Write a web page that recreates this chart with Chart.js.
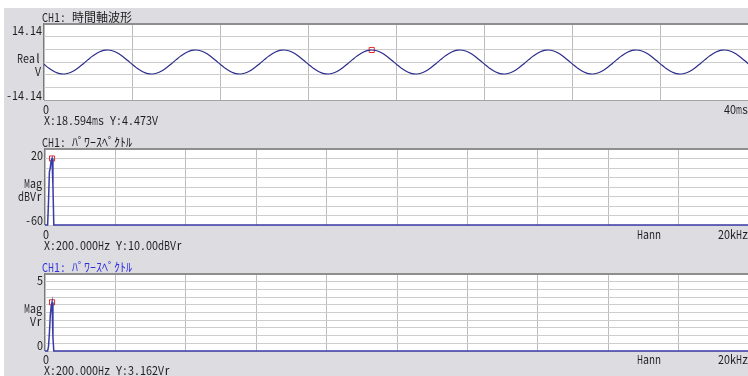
<!DOCTYPE html>
<html>
<head>
<meta charset="utf-8">
<script src="https://cdn.jsdelivr.net/npm/chart.js@4.4.1/dist/chart.umd.min.js"></script>
<style>
    html, body { margin: 0; padding: 0; width: 748px; height: 376px; overflow: hidden; background: #ffffff; position: relative; }
    #frame { position: absolute; left: 4px; top: 8px; width: 744px; height: 368px; background: #dcdce1; }
    .panel { position: absolute; left: 0; width: 754px; }
    .panel canvas { display: block; }
</style>
</head>
<body>
<div id="frame"></div>
<div class="panel" style="top:0px;height:125px"><canvas id="wave" width="754" height="125"></canvas></div>
<div class="panel" style="top:125px;height:125px"><canvas id="dbv" width="754" height="125"></canvas></div>
<div class="panel" style="top:250px;height:126px"><canvas id="vr" width="754" height="126"></canvas></div>
<script>
(function (window, document) {
    'use strict';

    // time domain trace, one sample every 0.25 ms (0..40 ms)
    var sampleStepMs = 0.25;
    var waveVolts = [
        -0.87, -2.18, -3.28, -4.06, -4.44, -4.38, -3.90, -3.04, -1.87, -0.53, 0.87, 2.18, 3.28, 4.06, 4.44, 4.38, 3.90, 3.04, 1.87, 0.53,
        -0.87, -2.18, -3.28, -4.06, -4.44, -4.38, -3.90, -3.04, -1.87, -0.53, 0.87, 2.18, 3.28, 4.06, 4.44, 4.38, 3.90, 3.04, 1.87, 0.53,
        -0.87, -2.18, -3.28, -4.06, -4.44, -4.38, -3.90, -3.04, -1.87, -0.53, 0.87, 2.18, 3.28, 4.06, 4.44, 4.38, 3.90, 3.04, 1.87, 0.53,
        -0.87, -2.18, -3.28, -4.06, -4.44, -4.38, -3.90, -3.04, -1.87, -0.53, 0.87, 2.18, 3.28, 4.06, 4.44, 4.38, 3.90, 3.04, 1.87, 0.53,
        -0.87, -2.18, -3.28, -4.06, -4.44, -4.38, -3.90, -3.04, -1.87, -0.53, 0.87, 2.18, 3.28, 4.06, 4.44, 4.38, 3.90, 3.04, 1.87, 0.53,
        -0.87, -2.18, -3.28, -4.06, -4.44, -4.38, -3.90, -3.04, -1.87, -0.53, 0.87, 2.18, 3.28, 4.06, 4.44, 4.38, 3.90, 3.04, 1.87, 0.53,
        -0.87, -2.18, -3.28, -4.06, -4.44, -4.38, -3.90, -3.04, -1.87, -0.53, 0.87, 2.18, 3.28, 4.06, 4.44, 4.38, 3.90, 3.04, 1.87, 0.53,
        -0.87, -2.18, -3.28, -4.06, -4.44, -4.38, -3.90, -3.04, -1.87, -0.53, 0.87, 2.18, 3.28, 4.06, 4.44, 4.38, 3.90, 3.04, 1.87, 0.53,
        -0.87
    ];
    var waveMarker = { x: 18.594, y: 4.473 };
    var timeTicks = [0, 5, 10, 15, 20, 25, 30, 35, 40];
    var voltTicks = [-14.14, -9.427, -4.713, 0, 4.713, 9.427, 14.14];

    // power spectrum, 0..20 kHz
    var specFreqHz = [0, 50, 75, 100, 125, 150, 175, 200, 225, 250, 275, 20000];
    var specDbv = [-60, -60, -60, -35, -4, 0, 8, 10.00, -18, -60, -60, -60];
    var specVr = [0, 0, 0, 0.3, 1.15, 2.3, 2.9, 3.162, 0.9, 0, 0, 0];
    var dbvMarker = { x: 200, y: 10.00 };
    var vrMarker = { x: 200, y: 3.162 };
    var freqTicks = [0, 2000, 4000, 6000, 8000, 10000, 12000, 14000, 16000, 18000, 20000];
    var dbvTicks = [-60, -50, -40, -30, -20, -10, 0, 10, 20];
    var vrTicks = [0, 0.5, 1, 1.5, 2, 2.5, 3, 3.5, 4, 4.5, 5];

    var ink = '#1e1e1e';
    var traceColor = '#2c2c8c';
    var specColor = '#3a3aa6';
    var markerColor = '#e02a2a';

    function cellWidth(ch) {
        var c = ch.charCodeAt(0);
        if (c < 0x80 || (c >= 0xff61 && c <= 0xff9f)) {
            return 6;
        }
        return 12;
    }

    // instrument style text: fixed pitch cells, half width 6px, full width 12px
    function drawMono(ctx, text, x, y, align, color) {
        var chars = Array.from(text);
        var total = chars.reduce(function (sum, ch) {
            return sum + cellWidth(ch);
        }, 0);
        var cx = align === 'right' ? x - total : x;

        ctx.save();
        ctx.fillStyle = color || ink;
        ctx.textAlign = 'center';
        ctx.textBaseline = 'middle';
        ctx.font = '12px "Noto Sans CJK JP"';

        chars.forEach(function (ch) {
            var w = cellWidth(ch);
            var gw = ctx.measureText(ch).width;
            ctx.save();
            ctx.translate(cx + w / 2, y);
            if (gw > w) {
                ctx.scale(w / gw, 1);
            }
            ctx.fillText(ch, 0, 0);
            ctx.restore();
            cx += w;
        });

        ctx.restore();
    }

    var scopeFrame = {
        id: 'scopeFrame',
        beforeDraw: function (chart) {
            var a = chart.chartArea;
            var ctx = chart.ctx;
            ctx.save();
            ctx.fillStyle = '#ffffff';
            ctx.fillRect(a.left, a.top, a.right - a.left, a.bottom - a.top);
            ctx.restore();
        },
        afterDraw: function (chart, args, opts) {
            var a = chart.chartArea;
            var ctx = chart.ctx;

            ctx.save();
            ctx.fillStyle = '#8e8e8e';
            ctx.fillRect(a.left, a.top - 1, a.right - a.left, 2);
            ctx.fillStyle = '#7a7a7a';
            ctx.fillRect(a.left - 1, a.top - 1, 1, a.bottom - a.top + 1);
            if (opts.bottomBorder) {
                ctx.fillStyle = '#a4a4a4';
                ctx.fillRect(a.left, a.bottom, a.right - a.left, 1);
            }
            ctx.restore();

            drawMono(ctx, opts.title, 42, 17, 'left', opts.titleColor);
            drawMono(ctx, opts.yTop, a.left - 2, 30.5, 'right');
            drawMono(ctx, opts.yMid[0], a.left - 3, 58, 'right');
            drawMono(ctx, opts.yMid[1], a.left - 3, 71, 'right');
            drawMono(ctx, opts.yBottom, a.left - 2, 95.5, 'right');
            drawMono(ctx, opts.xLeft, 43, 109, 'left');
            drawMono(ctx, opts.xRight, 748, 109, 'right');
            if (opts.windowName) {
                drawMono(ctx, opts.windowName, 637, 109, 'left');
            }
            drawMono(ctx, opts.readout, 44, 120, 'left');
        }
    };

    function fixedTicks(values) {
        return function (scale) {
            scale.ticks = values.map(function (v) {
                return { value: v };
            });
        };
    }

    function makeScales(xTicks, yTicks, hGridColor) {
        return {
            x: {
                type: 'linear',
                min: xTicks[0],
                max: xTicks[xTicks.length - 1],
                afterBuildTicks: fixedTicks(xTicks),
                afterFit: function (scale) { scale.height = 0; },
                ticks: { display: false },
                grid: { color: '#bdbdbd', lineWidth: 1, drawTicks: false },
                border: { display: false }
            },
            y: {
                type: 'linear',
                min: yTicks[0],
                max: yTicks[yTicks.length - 1],
                afterBuildTicks: fixedTicks(yTicks),
                afterFit: function (scale) { scale.width = 0; },
                ticks: { display: false },
                grid: { color: hGridColor, lineWidth: 1, drawTicks: false },
                border: { display: false }
            }
        };
    }

    function markerDataset(point) {
        return {
            data: [point],
            showLine: false,
            pointStyle: 'rect',
            pointRadius: 3.6,
            pointBorderWidth: 1,
            pointBorderColor: markerColor,
            pointBackgroundColor: 'rgba(0,0,0,0)',
            clip: 4
        };
    }

    function makePanel(canvasId, config) {
        return new Chart(document.getElementById(canvasId), {
            type: 'line',
            data: {
                datasets: [{
                    data: config.points,
                    borderColor: config.lineColor,
                    borderWidth: config.lineWidth,
                    tension: config.tension,
                    pointRadius: 0,
                    clip: 2
                }, markerDataset(config.marker)]
            },
            options: {
                responsive: false,
                maintainAspectRatio: false,
                devicePixelRatio: 1,
                animation: false,
                layout: { padding: { left: config.left, top: 24, right: 1, bottom: 25 } },
                plugins: {
                    legend: { display: false },
                    tooltip: { enabled: false },
                    scopeFrame: config.frame
                },
                scales: makeScales(config.xTicks, config.yTicks, '#cdcdcd')
            },
            plugins: [scopeFrame]
        });
    }

    var wavePoints = waveVolts.map(function (v, i) {
        return { x: i * sampleStepMs, y: v };
    });
    var dbvPoints = specFreqHz.map(function (f, i) {
        return { x: f, y: specDbv[i] };
    });
    var vrPoints = specFreqHz.map(function (f, i) {
        return { x: f, y: specVr[i] };
    });

    makePanel('wave', {
        points: wavePoints,
        marker: waveMarker,
        lineColor: traceColor,
        lineWidth: 1.2,
        tension: 0.4,
        left: 44,
        xTicks: timeTicks,
        yTicks: voltTicks,
        frame: {
            title: 'CH1: 時間軸波形',
            yTop: '14.14',
            yMid: ['Real', 'V'],
            yBottom: '-14.14',
            xLeft: '0',
            xRight: '40ms',
            windowName: '',
            bottomBorder: true,
            readout: 'X:' + waveMarker.x.toFixed(3) + 'ms Y:' + waveMarker.y.toFixed(3) + 'V'
        }
    });

    makePanel('dbv', {
        points: dbvPoints,
        marker: dbvMarker,
        lineColor: specColor,
        lineWidth: 1.5,
        tension: 0,
        left: 45,
        xTicks: freqTicks,
        yTicks: dbvTicks,
        frame: {
            title: 'CH1: ﾊﾟﾜｰｽﾍﾟｸﾄﾙ',
            yTop: '20',
            yMid: ['Mag', 'dBVr'],
            yBottom: '-60',
            xLeft: '0',
            xRight: '20kHz',
            windowName: 'Hann',
            bottomBorder: false,
            readout: 'X:' + dbvMarker.x.toFixed(3) + 'Hz Y:' + dbvMarker.y.toFixed(2) + 'dBVr'
        }
    });

    makePanel('vr', {
        points: vrPoints,
        marker: vrMarker,
        lineColor: specColor,
        lineWidth: 1.5,
        tension: 0,
        left: 45,
        xTicks: freqTicks,
        yTicks: vrTicks,
        frame: {
            title: 'CH1: ﾊﾟﾜｰｽﾍﾟｸﾄﾙ',
            titleColor: '#2f2fe0',
            yTop: '5',
            yMid: ['Mag', 'Vr'],
            yBottom: '0',
            xLeft: '0',
            xRight: '20kHz',
            windowName: 'Hann',
            bottomBorder: false,
            readout: 'X:' + vrMarker.x.toFixed(3) + 'Hz Y:' + vrMarker.y.toFixed(3) + 'Vr'
        }
    });
})(window, document);
</script>
</body>
</html>
